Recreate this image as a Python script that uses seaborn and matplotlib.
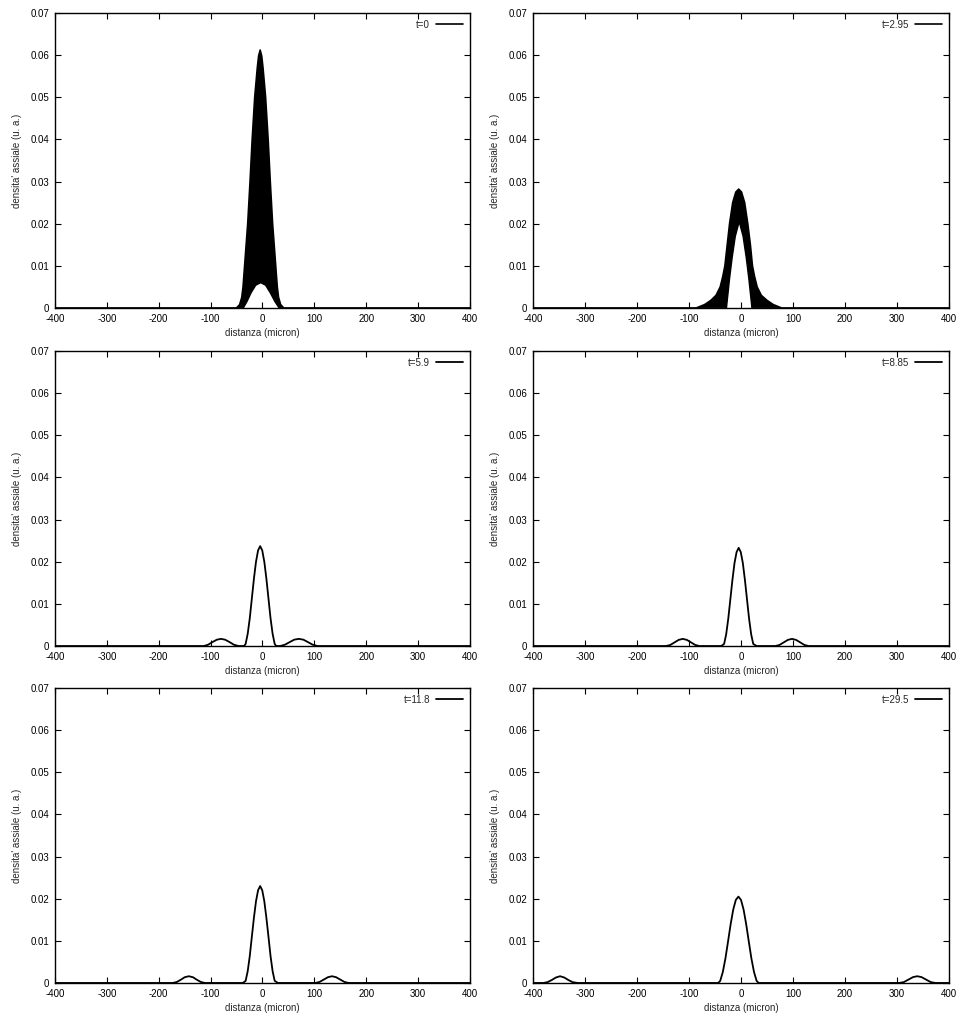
import numpy as np
import matplotlib
matplotlib.use('Agg')
import matplotlib.pyplot as plt
import seaborn as sns

# values (distanza in micron, densita' in u. a.)
time_labels = ['t=0', 't=2.95', 't=5.9', 't=8.85', 't=11.8', 't=29.5']

# t=0 and t=2.95: fast oscillating curve, drawn as a band (upper / lower envelope)
x_t0_up = [-400, -50, -44, -40, -37.5, -34.5, -28.5, -24, -19.9, -15, -10, -7.5, -4.5,
           -1.5, 1, 6, 10.9, 15, 19.5, 25.5, 28.5, 31, 35, 41, 400]
y_t0_up = [0, 0, 0.0008, 0.0025, 0.005, 0.010, 0.020, 0.030, 0.040, 0.050, 0.057, 0.0598, 0.0612,
           0.0598, 0.057, 0.050, 0.040, 0.030, 0.020, 0.010, 0.005, 0.0025, 0.0008, 0, 0]
x_t0_lo = [-37, -30, -22, -13, -3.5, 6, 15, 24, 32]
y_t0_lo = [0, 0.0015, 0.0036, 0.0054, 0.006, 0.0054, 0.0036, 0.0015, 0]

x_t295_up = [-400, -86, -70, -58, -48, -40, -35, -31, -26.5, -22, -16, -10, -4.5, 1, 7,
             13, 18, 22, 26, 31, 39, 50, 62, 78, 400]
y_t295_up = [0, 0, 0.0008, 0.0018, 0.003, 0.005, 0.0075, 0.010, 0.015, 0.020, 0.025, 0.0275, 0.0282,
             0.0275, 0.025, 0.020, 0.015, 0.010, 0.0075, 0.005, 0.003, 0.0018, 0.0008, 0, 0]
x_t295_lo = [-28, -22, -17, -11, -3.5, 4, 10, 15, 21]
y_t295_lo = [0, 0.007, 0.012, 0.017, 0.0205, 0.017, 0.012, 0.007, 0]

# later times: smooth curves
x_t59 = [-400, -113, -105, -97, -88, -80, -72, -63, -55, -46,
         -35.5, -32.5, -28.5, -24.5, -20.5, -16.5, -12.5, -8.5, -4.5, -0.5, 3.5, 7.5, 11.5, 15.5, 19.5, 23.5, 26.5,
         34, 43, 52, 61, 70, 79, 88, 97, 106, 400]
y_t59 = [0, 0, 0.0003, 0.0009, 0.0015, 0.0017, 0.0015, 0.0009, 0.0003, 0,
         0, 0.0005, 0.0029, 0.0066, 0.0113, 0.0160, 0.0200, 0.0227, 0.0237, 0.0227, 0.0200, 0.0160, 0.0113, 0.0066, 0.0029, 0.0005, 0,
         0, 0.0003, 0.0009, 0.0015, 0.0017, 0.0015, 0.0009, 0.0003, 0, 0]

x_t885 = [-400, -144, -136, -128, -120, -112, -104, -96, -88, -80,
          -38, -32.5, -28.5, -24.5, -20.5, -16.5, -12.5, -8.5, -4.5, -0.5, 3.5, 7.5, 11.5, 15.5, 19.5, 23.5, 30,
          66, 74, 82, 90, 98, 106, 114, 122, 130, 400]
y_t885 = [0, 0, 0.00025, 0.00085, 0.00145, 0.0017, 0.00145, 0.00085, 0.00025, 0,
          0, 0.0005, 0.0028, 0.0065, 0.0111, 0.0157, 0.0197, 0.0223, 0.0233, 0.0223, 0.0197, 0.0157, 0.0111, 0.0065, 0.0028, 0.0005, 0,
          0, 0.00025, 0.00085, 0.00145, 0.0017, 0.00145, 0.00085, 0.00025, 0, 0]

x_t118 = [-400, -173, -165, -157, -150, -142, -134, -127, -119, -111,
          -38, -32.5, -28.5, -24.5, -20.5, -16.5, -12.5, -8.5, -4.5, -0.5, 3.5, 7.5, 11.5, 15.5, 19.5, 23.5, 30,
          102, 110, 118, 126, 134, 142, 150, 158, 166, 400]
y_t118 = [0, 0, 0.00024, 0.0008, 0.00136, 0.0016, 0.00136, 0.0008, 0.00024, 0,
          0, 0.0005, 0.0028, 0.0064, 0.0110, 0.0155, 0.0194, 0.0220, 0.0230, 0.0220, 0.0194, 0.0155, 0.0110, 0.0064, 0.0028, 0.0005, 0,
          0, 0.00024, 0.0008, 0.00136, 0.0016, 0.00136, 0.0008, 0.00024, 0, 0]

x_t295 = [-400, -380, -372, -364, -356, -348, -340, -332, -324, -314,
          -44, -40, -35, -30, -25, -20, -15, -10, -5, 0, 5, 10, 15, 20, 25, 30, 34,
          304, 313, 322, 331, 339, 347, 356, 365, 374, 400]
y_t295 = [0, 0, 0.0002, 0.0007, 0.0013, 0.0016, 0.0013, 0.0007, 0.0002, 0,
          0, 0.0005, 0.0026, 0.0058, 0.0098, 0.0139, 0.0174, 0.0197, 0.0205, 0.0197, 0.0174, 0.0139, 0.0098, 0.0058, 0.0026, 0.0005, 0,
          0, 0.0002, 0.0008, 0.0014, 0.0016, 0.0014, 0.0008, 0.0002, 0, 0]

x_ticks = [-400, -300, -200, -100, 0, 100, 200, 300, 400]
y_ticks = [0, 0.01, 0.02, 0.03, 0.04, 0.05, 0.06, 0.07]
y_ticklabels = ['0', '0.01', '0.02', '0.03', '0.04', '0.05', '0.06', '0.07']

sns.set_theme(style='ticks')
plt.rcParams['font.family'] = ['Liberation Sans', 'DejaVu Sans']
plt.rcParams['axes.unicode_minus'] = False
plt.rcParams['font.size'] = 7

fig = plt.figure(figsize=(9.58, 10.14), dpi=100)

lefts = [0.0574, 0.5564]
widths = [0.4332, 0.4342]
bottoms = [0.6963, 0.3629, 0.0306]
height = 0.2909

bands = [(x_t0_up, y_t0_up, x_t0_lo, y_t0_lo), (x_t295_up, y_t295_up, x_t295_lo, y_t295_lo)]
curves = [(x_t59, y_t59), (x_t885, y_t885), (x_t118, y_t118), (x_t295, y_t295)]

for i in range(6):
    row, col = divmod(i, 2)
    ax = fig.add_axes([lefts[col], bottoms[row], widths[col], height])

    if i < 2:
        xu, yu, xl, yl = bands[i]
        # filled band between the two envelopes
        ax.fill(np.concatenate([xu, xl[::-1]]), np.concatenate([yu, yl[::-1]]),
                color='black', lw=0)
        sns.lineplot(x=xu, y=yu, ax=ax, color='black', lw=1.2, estimator=None,
                     sort=False, label=time_labels[i])
        sns.lineplot(x=xl, y=yl, ax=ax, color='black', lw=1.0, estimator=None, sort=False)
    else:
        xc, yc = curves[i - 2]
        sns.lineplot(x=xc, y=yc, ax=ax, color='black', lw=1.3, estimator=None,
                     sort=False, label=time_labels[i])

    ax.set_xlim(-400, 400)
    ax.set_ylim(0, 0.07)
    ax.set_xticks(x_ticks)
    ax.set_xticklabels([str(v) for v in x_ticks])
    ax.set_yticks(y_ticks)
    ax.set_yticklabels(y_ticklabels)
    ax.tick_params(direction='in', length=4, width=0.8, top=True, right=True,
                   labelsize=7, pad=4, colors='black')
    for s in ax.spines.values():
        s.set_linewidth(1.0)
        s.set_color('black')
    ax.set_xlabel('distanza (micron)', fontsize=7, labelpad=3)
    ax.set_ylabel("densita' assiale (u. a.)", fontsize=7, labelpad=6)

    ax.legend(loc='upper right', frameon=False, markerfirst=False, fontsize=7,
              handlelength=2.8, handletextpad=0.6, borderaxespad=0.3)

fig.savefig('out.png', dpi=100)
